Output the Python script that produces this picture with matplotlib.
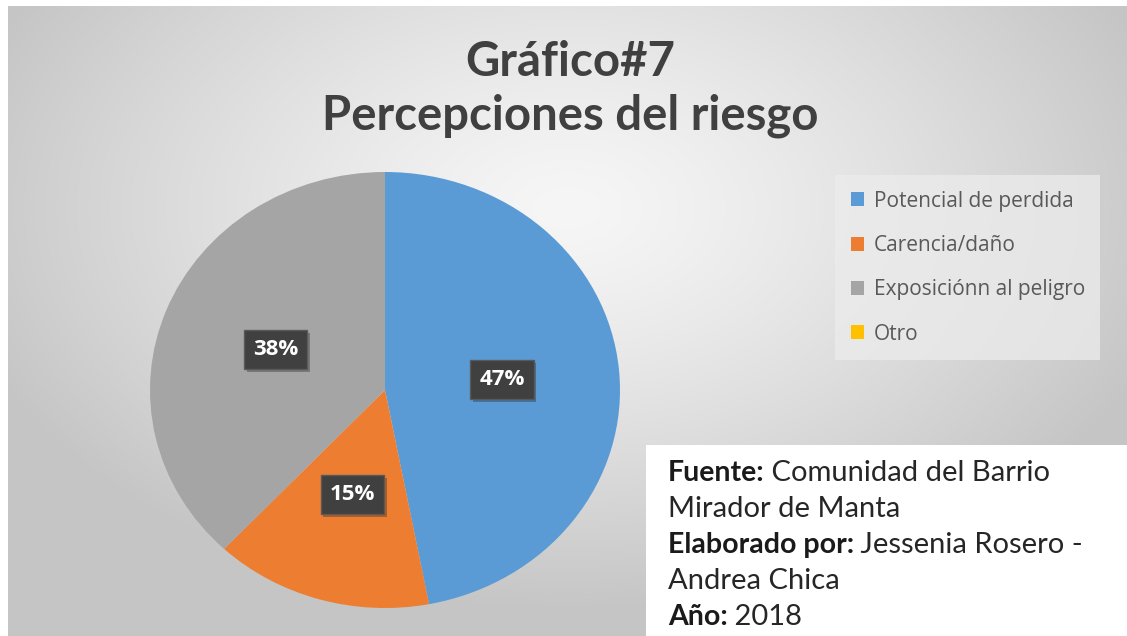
import numpy as np
import matplotlib
matplotlib.use('Agg')
import matplotlib.pyplot as plt
import matplotlib.patheffects as pe
from matplotlib.patches import Rectangle

plt.rcParams['font.family'] = ['Lato', 'DejaVu Sans']

# datos
categorias = ['Potencial de perdida', 'Carencia/daño', 'Exposiciónn al peligro', 'Otro']
porcentajes = [47, 15, 38, 0]
colores = ['#5B9BD5', '#ED7D31', '#A5A5A5', '#FFC000']
titulo = 'Gráfico#7\nPercepciones del riesgo'
fuente = [('Fuente:', ' Comunidad del Barrio'),
          ('', 'Mirador de Manta'),
          ('Elaborado por:', ' Jessenia Rosero -'),
          ('', 'Andrea Chica'),
          ('Año:', ' 2018')]

W, H = 1127, 636
fig = plt.figure(figsize=(W / 100, H / 100), dpi=100)
fig.patch.set_facecolor('white')

# fondo con degradado radial
bg = fig.add_axes([8 / W, 0, 1 - 8 / W, 1 - 6 / H])
yy, xx = np.mgrid[0:1:300j, 0:1:500j]
d = np.sqrt(((xx - 0.5) / 0.75) ** 2 + ((yy - 0.32) / 0.85) ** 2)
d = np.clip(d / 0.75, 0, 1)
vals = 0.965 - 0.19 * d ** 1.3
bg.imshow(np.dstack([vals] * 3), aspect='auto', extent=[0, 1, 1, 0])
bg.set_xlim(0, 1)
bg.set_ylim(1, 0)
bg.axis('off')

# tarta (la imagen original esta algo estirada en horizontal)
cx, cy, rx, ry = 385, 390, 235, 218
ax = fig.add_axes([(cx - rx) / W, (H - cy - ry) / H, 2 * rx / W, 2 * ry / H])
wedges, _, autotexts = ax.pie(porcentajes, colors=colores, startangle=90, counterclock=False,
                              autopct='%1.0f%%', pctdistance=0.5,
                              textprops=dict(color='white', fontsize=16, fontweight='bold',
                                             family=['Open Sans', 'DejaVu Sans']))
for t, v in zip(autotexts, porcentajes):
    if v == 0:
        t.set_visible(False)
        continue
    t.set_bbox(dict(boxstyle='square,pad=0.4', fc='#404040', ec='#595959', lw=1))
    t.get_bbox_patch().set_path_effects([pe.SimplePatchShadow(offset=(2, -2), alpha=0.3), pe.Normal()])
ax.set_aspect('auto')
ax.set_xlim(-1, 1)
ax.set_ylim(-1, 1)

fig.text(0.506, 1 - 89 / H, titulo, ha='center', va='center', fontsize=34,
         fontweight='bold', color='#404040', linespacing=1.25)

leg = fig.legend(wedges, categorias, loc='upper left', bbox_to_anchor=(835 / W, 1 - 175 / H),
                 prop=dict(family=['Open Sans', 'DejaVu Sans'], size=15),
                 frameon=True, fancybox=False, handlelength=0.65, handleheight=0.65,
                 handletextpad=0.45, labelspacing=1.12, borderpad=0.75, borderaxespad=0)
leg.get_frame().set_facecolor('#ececec')
leg.get_frame().set_edgecolor('none')
leg.get_frame().set_alpha(0.75)
for t in leg.get_texts():
    t.set_color('#595959')

# cuadro de fuente
fig.patches.append(Rectangle((646 / W, 0), 1 - 646 / W, (H - 445) / H,
                             transform=fig.transFigure, fc='white', ec='none', zorder=5))
ys = [473, 509, 545, 581, 617]
renderer = fig.canvas.get_renderer()
for (neg, reg), y in zip(fuente, ys):
    tb = fig.text(668 / W, 1 - y / H, neg, fontsize=20.5, fontweight='bold', color='#1a1a1a',
                  va='center', zorder=6)
    x1 = tb.get_window_extent(renderer).x1 - 1 if neg else 668
    fig.text(x1 / W, 1 - y / H, reg, fontsize=21, color='#262626', va='center', zorder=6)

fig.savefig('out.png', dpi=100)
